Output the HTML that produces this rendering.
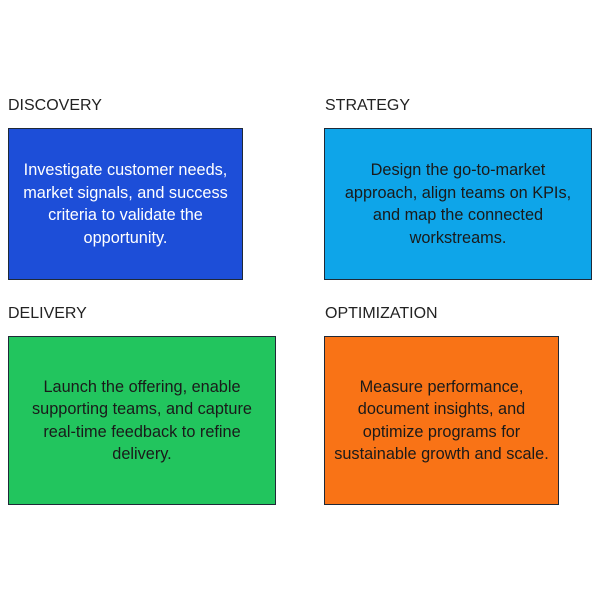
<!DOCTYPE html>
<html><head><style>
body{margin:0;width:600px;height:600px;background:#fff;position:relative;font-family:"Liberation Sans",sans-serif;overflow:hidden}
.l{position:absolute;font-size:16px;color:#222}
.b{position:absolute;box-sizing:border-box;border:1.5px solid #1f2937;display:flex;align-items:center;justify-content:center;text-align:center;font-size:16.3px;line-height:22.5px}
</style></head><body>
<div class="l" style="left:8px;top:97px">DISCOVERY</div>
<div class="l" style="left:325px;top:97px">STRATEGY</div>
<div class="l" style="left:8px;top:305px">DELIVERY</div>
<div class="l" style="left:325px;top:305px">OPTIMIZATION</div>
<div class="b" style="left:8px;top:128px;width:235px;height:152px;background:#1d4ed8;color:#fff">Investigate customer needs,<br>market signals, and success<br>criteria to validate the<br>opportunity.</div>
<div class="b" style="left:324px;top:128px;width:268px;height:152px;background:#0ea5e9;color:#1a1a1a">Design the go-to-market<br>approach, align teams on KPIs,<br>and map the connected<br>workstreams.</div>
<div class="b" style="left:8px;top:336px;width:268px;height:169px;background:#22c55e;color:#1a1a1a">Launch the offering, enable<br>supporting teams, and capture<br>real-time feedback to refine<br>delivery.</div>
<div class="b" style="left:324px;top:336px;width:235px;height:169px;background:#f97316;color:#1a1a1a">Measure performance,<br>document insights, and<br>optimize programs for<br>sustainable growth and scale.</div>
</body></html>
